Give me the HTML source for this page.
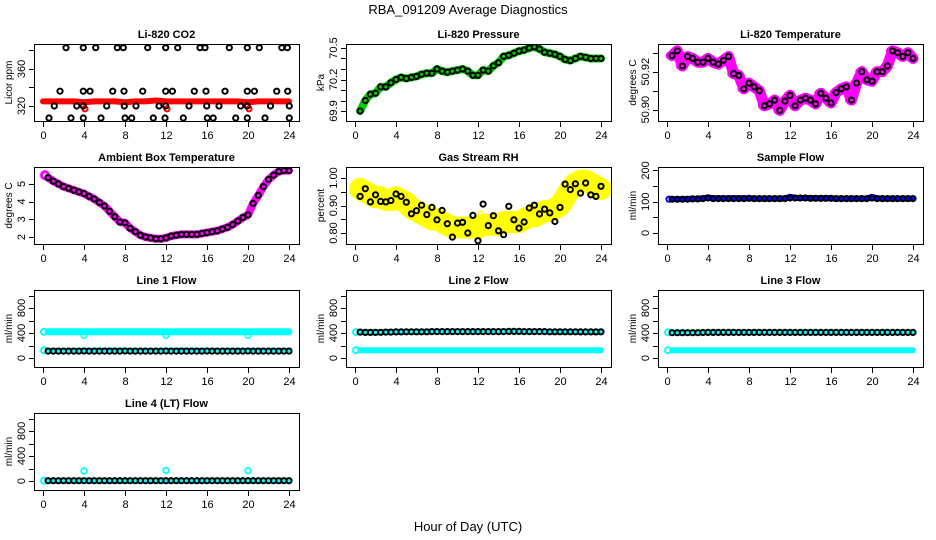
<!DOCTYPE html>
<html><head><meta charset="utf-8"><style>
html,body{margin:0;padding:0;background:#fff;}
svg{display:block;font-family:"Liberation Sans",Arial,sans-serif;}
</style></head><body>
<svg id="chart" width="936" height="540" viewBox="0 0 936 540" xmlns="http://www.w3.org/2000/svg">
<text x="468" y="14" text-anchor="middle" font-size="13">RBA_091209  Average Diagnostics</text>
<text x="468" y="531" text-anchor="middle" font-size="13">Hour of Day (UTC)</text>
</svg>
<script>
// ---- data ----
const hours48 = [0.5,1,1.5,2,2.5,3,3.5,4,4.5,5,5.5,6,6.5,7,7.5,8,8.5,9,9.5,10,10.5,11,11.5,12,12.5,13,13.5,14,14.5,15,15.5,16,16.5,17,17.5,18,18.5,19,19.5,20,20.5,21,21.5,22,22.5,23,23.5,24];
const hourTicks = [0,4,8,12,16,20,24];
const co2TopX = [2.24,3.93,5.14,7.25,7.83,10.21,11.97,13.14,15.32,15.8,18.18,19.93,21.1,23.3,23.84];
const co2MidX = [1.66,3.93,4.59,6.8,7.9,9.73,11.97,12.62,14.76,15.9,17.76,19.93,20.62,22.8,23.87];
const co2LowX = [1.1,3.29,3.93,6.21,7.93,9.07,11.32,11.97,14.24,15.97,17.17,19.29,19.93,22.2,24.03];
const co2BotX = [0.59,2.73,3.93,5.66,8.0,8.65,10.76,11.9,13.69,16.03,16.6,18.8,19.93,21.66,24.03];
const co2Levels = [383,336,320,307];
const co2RedX = [0,1,2,3,4,5,6,7,8,9,10,11,12,13,14,15,16,17,18,19,20,21,22,23,24];
const co2Red = [325,325,325,325,324,325,325,325,324,325,325,326,325,325,325,325,325,325,325,325,324,325,325,325,325];
const co2RedOutX = [4.1,12.1,20.1];
const co2RedOut = [317,317,317];
const pressure = [69.9,70.0,70.06,70.07,70.13,70.13,70.17,70.2,70.22,70.21,70.22,70.23,70.25,70.26,70.26,70.3,70.28,70.27,70.28,70.29,70.3,70.28,70.24,70.24,70.29,70.28,70.33,70.36,70.42,70.43,70.45,70.47,70.48,70.5,70.51,70.49,70.46,70.45,70.44,70.42,70.39,70.38,70.4,70.42,70.41,70.4,70.4,70.4];
const temperature = [50.9285,50.931,50.923,50.928,50.927,50.925,50.925,50.927,50.925,50.924,50.926,50.928,50.919,50.918,50.911,50.914,50.912,50.910,50.902,50.903,50.905,50.8996,50.9045,50.9075,50.902,50.905,50.906,50.905,50.903,50.9086,50.906,50.9035,50.909,50.911,50.912,50.905,50.914,50.92,50.9157,50.915,50.92,50.92,50.923,50.931,50.93,50.928,50.93,50.927];
const ambient = [5.35,5.15,5.0,4.85,4.75,4.65,4.55,4.45,4.3,4.15,3.95,3.75,3.45,3.15,2.85,2.8,2.5,2.3,2.1,2.0,1.95,1.9,1.9,1.95,2.05,2.1,2.15,2.15,2.15,2.15,2.2,2.25,2.3,2.35,2.45,2.55,2.7,2.9,3.1,3.25,3.9,4.35,4.85,5.25,5.5,5.7,5.75,5.75];
const rh = [0.933,0.961,0.913,0.939,0.915,0.913,0.918,0.942,0.933,0.912,0.870,0.881,0.901,0.867,0.893,0.848,0.882,0.834,0.785,0.836,0.839,0.80,0.864,0.772,0.905,0.827,0.863,0.808,0.794,0.897,0.848,0.818,0.84,0.891,0.901,0.869,0.887,0.873,0.842,0.893,0.978,0.958,0.979,0.945,0.982,0.939,0.933,0.97];
const rhCloud = [0.96,0.95,0.94,0.93,0.93,0.92,0.92,0.93,0.92,0.91,0.89,0.88,0.87,0.86,0.85,0.85,0.84,0.83,0.82,0.82,0.82,0.82,0.82,0.82,0.83,0.83,0.83,0.83,0.84,0.84,0.84,0.84,0.85,0.86,0.86,0.87,0.88,0.88,0.89,0.9,0.93,0.96,0.98,0.99,0.99,0.98,0.97,0.96];
const sampleFlow = [108,108,108,108,109,109,110,112,110,110,110,110,110,110,110,111,110,110,110,110,110,110,110,112,112,112,112,111,111,111,111,111,110,110,110,110,110,110,110,112,110,110,110,110,110,110,110,110];
const sampleBlue = [108,108,108,109,109,110,110,114,111,111,111,111,111,111,111,111,110,110,110,110,110,110,110,116,112,112,112,112,111,111,111,111,110,110,110,110,110,110,110,116,111,110,110,110,110,110,110,110];
const line1Black = [110,110,110,110,110,110,110,112,110,110,110,110,110,110,110,112,110,110,110,110,110,110,110,112,110,110,110,110,110,110,110,112,110,110,110,110,110,110,110,112,110,110,110,110,110,110,110,110];
const line1CyanHi = [420,420,420,420,420,420,420,420,420,420,420,420,420,420,420,420,420,420,420,420,420,420,420,420,420,420,420,420,420,420,420,420,420,420,420,420,420,420,420,420,420,420,420,420,420,420,420,420];
const line1CyanLo = [125,125,125,125,125,125,125,125,125,128,128,128,128,128,128,128,125,125,125,125,125,125,125,125,128,128,128,128,128,128,125,125,125,125,125,125,125,125,125,125,125,125,125,125,125,125,125,125];
const line1Out = [360,360,360];
const outX = [4,12,20];
const line2Black = [415,410,410,410,412,415,415,418,418,420,420,420,420,420,422,422,422,422,422,422,422,422,422,422,422,422,422,422,422,425,425,425,422,422,422,422,422,420,420,420,420,420,420,418,418,418,418,420];
const line2CyanLo = [125,125,125,125,125,125,125,125,125,125,125,125,125,125,125,125,125,125,125,125,125,125,125,125,125,125,125,125,125,125,125,125,125,125,125,125,125,125,125,125,125,125,125,125,125,125,125,125];
const line3Black = [405,405,405,405,405,405,408,410,410,410,410,410,410,410,410,410,410,410,410,410,410,410,410,410,410,410,410,410,410,410,410,410,410,410,410,410,410,410,410,410,410,410,410,410,410,410,410,410];
const line3CyanLo = [125,125,125,125,125,125,125,125,125,125,125,125,125,125,125,125,125,125,125,125,125,125,125,125,125,125,125,125,125,125,125,125,125,125,125,125,125,125,125,125,125,125,125,125,125,125,125,125];
const line4Black = [5,5,5,5,5,5,5,5,5,5,5,5,5,5,5,5,5,5,5,5,5,5,5,5,5,5,5,5,5,5,5,5,5,5,5,5,5,5,5,5,5,5,5,5,5,5,5,5];
const line4Out = [160,170,165];

// ---- helpers ----
const svg = document.getElementById('chart');
const NS = 'http://www.w3.org/2000/svg';
function mk(tag, attrs, parent){const e=document.createElementNS(NS,tag);for(const k in attrs)e.setAttribute(k,attrs[k]);(parent||svg).appendChild(e);return e;}

function panel(col,row,title,ylab,ymin,ymax,ticks,labels,name){
  const x0=34+312*col, x1=299+312*col, y0=44+123*row, y1=121+123*row;
  const g=mk('g',{});
  
  
  const sx=t=>x0+9+t*10.25;
  const sy=v=>y1-(v-ymin)/(ymax-ymin)*(y1-y0);
  const t=mk('text',{x:(x0+x1)/2,y:y0-6,'text-anchor':'middle','font-size':11,'font-weight':'bold'},g);
  t.textContent=title;
  
  
  const clip=mk('clipPath',{id:'c'+name},g);
  mk('rect',{x:x0,y:y0,width:x1-x0,height:y1-y0},clip);
  const plot=mk('g',{'clip-path':'url(#c'+name+')'},g);
  
  
  const box=mk('rect',{x:x0+0.5,y:y0+0.5,width:x1-x0,height:y1-y0,fill:'none',stroke:'#000','stroke-width':1},g);
  
  
  hourTicks.forEach(h=>{
    const x=Math.round(sx(h))+0.5;
    mk('line',{x1:x,x2:x,y1:y1+1,y2:y1+6,stroke:'#000'},g);
    const l=mk('text',{x:x,y:y1+18,'text-anchor':'middle','font-size':11},g);
    l.textContent=h;
    
    
  });
  ticks.forEach(v=>{
    const y=Math.round(sy(v))+0.5;
    mk('line',{x1:x0-5,x2:x0,y1:y,y2:y,stroke:'#000'},g);
  });
  labels.forEach(v=>{
    const y=sy(v);
    const l=mk('text',{x:0,y:0,'text-anchor':'middle','font-size':11,transform:`translate(${x0-9},${y}) rotate(-90)`},g);
    l.textContent=v;
    
    
  });
  const yl=mk('text',{x:0,y:0,'text-anchor':'middle','font-size':10,transform:`translate(${x0-22},${(y0+y1)/2}) rotate(-90)`},g);
  yl.textContent=ylab;
  
  
  return {plot,sx,sy};
}
function band(p,xs,vs,color,w,name){
  const pts=xs.map((x,i)=>p.sx(x).toFixed(1)+','+p.sy(vs[i]).toFixed(1)).join(' ');
  const e=mk('polyline',{points:pts,fill:'none',stroke:color,'stroke-width':w,'stroke-linejoin':'round','stroke-linecap':'round'},p.plot);
  
  
}
function pts(p,xs,vs,color,name,r,sw){
  xs.forEach((x,i)=>{
    const c=mk('circle',{cx:p.sx(x).toFixed(1),cy:p.sy(vs[i]).toFixed(1),r:r||2.6,fill:'none',stroke:color,'stroke-width':sw||2},p.plot);
    
    
  });
}
const fill=(arr,v)=>arr.map(()=>v);

// CO2
let p=panel(0,0,'Li-820 CO2','Licor ppm',303.8,387,[320,340,360,380],[320,360],'co2');
band(p,co2RedX,co2Red,'#ff0000',6,'co2-red-series');
pts(p,co2RedOutX,co2RedOut,'#ff0000','co2-red-point');
pts(p,co2TopX,fill(co2TopX,co2Levels[0]),'#000','co2-point');
pts(p,co2MidX,fill(co2MidX,co2Levels[1]),'#000','co2-point');
pts(p,co2LowX,fill(co2LowX,co2Levels[2]),'#000','co2-point');
pts(p,co2BotX,fill(co2BotX,co2Levels[3]),'#000','co2-point');

// Pressure
p=panel(1,0,'Li-820 Pressure','kPa',69.805,70.538,[69.9,70.0,70.1,70.2,70.3,70.4,70.5],[69.9,70.2,70.5],'pressure');
band(p,hours48,pressure,'#00cc00',8,'pressure-green-series');
pts(p,hours48,pressure,'#00cc00','pressure-green-point',3,1.5);
pts(p,hours48,pressure,'#000','pressure-point');

// Li-820 temp
p=panel(2,0,'Li-820 Temperature','degrees C',50.894,50.9346,[50.90,50.91,50.92,50.93],['50.90','50.92'],'li820-temp');
band(p,hours48,temperature,'#ff00ff',11,'li820-temp-magenta-series');
pts(p,hours48.map(h=>h-0.25),temperature,'#ff00ff','li820-temp-magenta-point',3,1.8);
pts(p,hours48,temperature,'#000','li820-temp-point');

// Ambient
p=panel(0,1,'Ambient Box Temperature','degrees C',1.605,5.955,[2,3,4,5],[2,3,4,5],'ambient');
band(p,hours48,ambient,'#ff00ff',8,'ambient-magenta-series');
pts(p,[0.2],[5.5],'#ff00ff','ambient-magenta-point',3.5,3);
pts(p,hours48,ambient,'#000','ambient-point');

// RH
p=panel(1,1,'Gas Stream RH','percent',0.76,1.04,[0.80,0.85,0.90,0.95,1.00],['0.80','0.90','1.00'],'rh');
band(p,hours48,rhCloud,'#ffff00',22,'rh-yellow-series');
pts(p,hours48.map(h=>h-0.25),rh.map((v,i)=>(v+rhCloud[i])/2),'#ffff00','rh-yellow-point',3,1.5);
pts(p,hours48,rh,'#000','rh-point');

// Sample flow
p=panel(2,1,'Sample Flow','ml/min',-35.2,211,[0,50,100,150,200],[0,100,200],'sample-flow');
band(p,hours48,sampleBlue,'#0000ff',6,'sample-flow-blue-series');
pts(p,[0.2],[108],'#0000ff','sample-flow-blue-point');
pts(p,hours48,sampleFlow,'#000','sample-flow-point');

const fT=[0,200,400,600,800,1000], fL=[0,400,800];
// Line 1
p=panel(0,2,'Line 1 Flow','ml/min',-144,1088,fT,fL,'line1');
band(p,hours48,line1CyanHi,'#00ffff',7,'line1-cyan-high-series');
band(p,hours48,line1CyanLo,'#00ffff',5,'line1-cyan-low-series');
pts(p,[0.1],[420],'#00ffff','line1-cyan-point',3,2);
pts(p,[0.1],[125],'#00ffff','line1-cyan-point',3,2);
pts(p,outX,line1Out,'#00ffff','line1-cyan-outlier',2.8,1.6);
pts(p,hours48,line1Black,'#000','line1-point');

// Line 2
p=panel(1,2,'Line 2 Flow','ml/min',-144,1088,fT,fL,'line2');
band(p,hours48,line2CyanLo,'#00ffff',6,'line2-cyan-low-series');
band(p,hours48,line2Black,'#00ffff',6,'line2-cyan-high-series');
pts(p,[0.1],[125],'#00ffff','line2-cyan-point',3,2);
pts(p,[0.1],[415],'#00ffff','line2-cyan-point',3,2);
pts(p,hours48,line2Black,'#000','line2-point');

// Line 3
p=panel(2,2,'Line 3 Flow','ml/min',-144,1088,fT,fL,'line3');
band(p,hours48,line3CyanLo,'#00ffff',6,'line3-cyan-low-series');
band(p,hours48,line3Black,'#00ffff',6,'line3-cyan-high-series');
pts(p,[0.1],[125],'#00ffff','line3-cyan-point',3,2);
pts(p,[0.1],[410],'#00ffff','line3-cyan-point',3,2);
pts(p,hours48,line3Black,'#000','line3-point');

// Line 4
p=panel(0,3,'Line 4 (LT) Flow','ml/min',-144,1088,fT,fL,'line4');
band(p,hours48,line4Black,'#00ffff',6,'line4-cyan-series');
pts(p,[0.1],[5],'#00ffff','line4-cyan-point',3,2);
pts(p,outX,line4Out,'#00ffff','line4-cyan-outlier',2.8,1.8);
pts(p,hours48,line4Black,'#000','line4-point');
</script>
</body></html>
